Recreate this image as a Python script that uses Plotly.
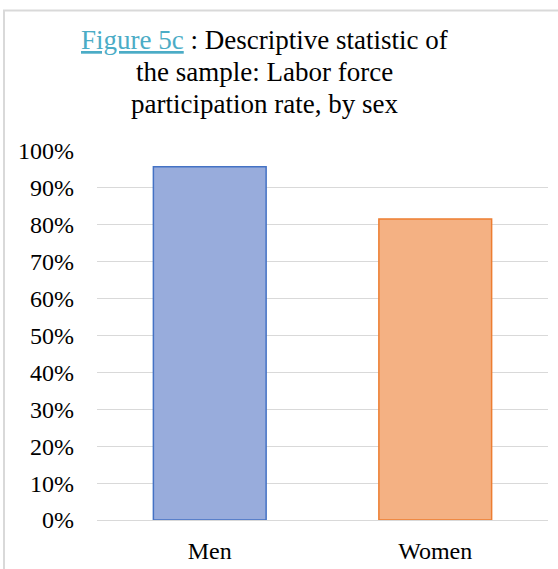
import plotly.graph_objects as go

# Labor force participation rate by sex
categories = ["Men", "Women"]
participation = [0.957, 0.816]
tick_values = [0, 0.1, 0.2, 0.3, 0.4, 0.5, 0.6, 0.7, 0.8, 0.9, 1.0]
tick_labels = ["0%", "10%", "20%", "30%", "40%", "50%", "60%", "70%", "80%", "90%", "100%"]
title_lines = [
    "<span style='color:#4BACC6'><u>Figure 5c</u></span> : Descriptive statistic of",
    "the sample: Labor force",
    "participation rate, by sex",
]

fill_colors = ["#98ACDC", "#F4B183"]
line_colors = ["#4472C4", "#ED7D31"]

W, H = 558, 569
L, R, T, B = 97, 10, 151, 49
plot_w = W - L - R
plot_h = H - T - B
FONT = "Liberation Serif, Times New Roman, serif"


def px_x(px):
    return (px - L) / plot_w


def px_y(py):
    return (H - B - py) / plot_h


fig = go.Figure(
    go.Bar(
        x=categories,
        y=participation,
        marker=dict(color=fill_colors, line=dict(color=line_colors, width=1.5)),
        width=0.5,
        hoverinfo="skip",
    )
)

# Title, one annotation per line
for i, line in enumerate(title_lines):
    fig.add_annotation(
        text=line,
        xref="paper", yref="paper",
        x=px_x(264), y=px_y(40 + 32 * i),
        xanchor="center", yanchor="middle",
        showarrow=False,
        font=dict(family=FONT, size=27, color="#000000"),
    )

# Outer frame (left and top edges)
frame = dict(color="#D9D9D9", width=2)
fig.add_shape(type="line", xref="paper", yref="paper", layer="above",
              x0=px_x(4), x1=px_x(4), y0=px_y(600), y1=px_y(10), line=frame)
fig.add_shape(type="line", xref="paper", yref="paper", layer="above",
              x0=px_x(3), x1=px_x(600), y0=px_y(10.5), y1=px_y(10.5), line=frame)

fig.update_layout(
    width=W, height=H,
    margin=dict(l=L, r=R, t=T, b=B),
    paper_bgcolor="white",
    plot_bgcolor="white",
    showlegend=False,
    font=dict(family=FONT, size=24, color="#000000"),
    xaxis=dict(
        showgrid=False, showline=False, zeroline=False, automargin=False,
        ticks="", ticklabelstandoff=14,
        tickfont=dict(family=FONT, size=24, color="#000000"),
    ),
    yaxis=dict(
        range=[0, 1], tickvals=tick_values, ticktext=tick_labels,
        showgrid=True, gridcolor="#D9D9D9", gridwidth=1, automargin=False,
        zeroline=True, zerolinecolor="#D9D9D9", zerolinewidth=1,
        showline=False, ticks="", ticklabelstandoff=22,
        tickfont=dict(family=FONT, size=24, color="#000000"),
    ),
)

fig.write_html("out.html")
